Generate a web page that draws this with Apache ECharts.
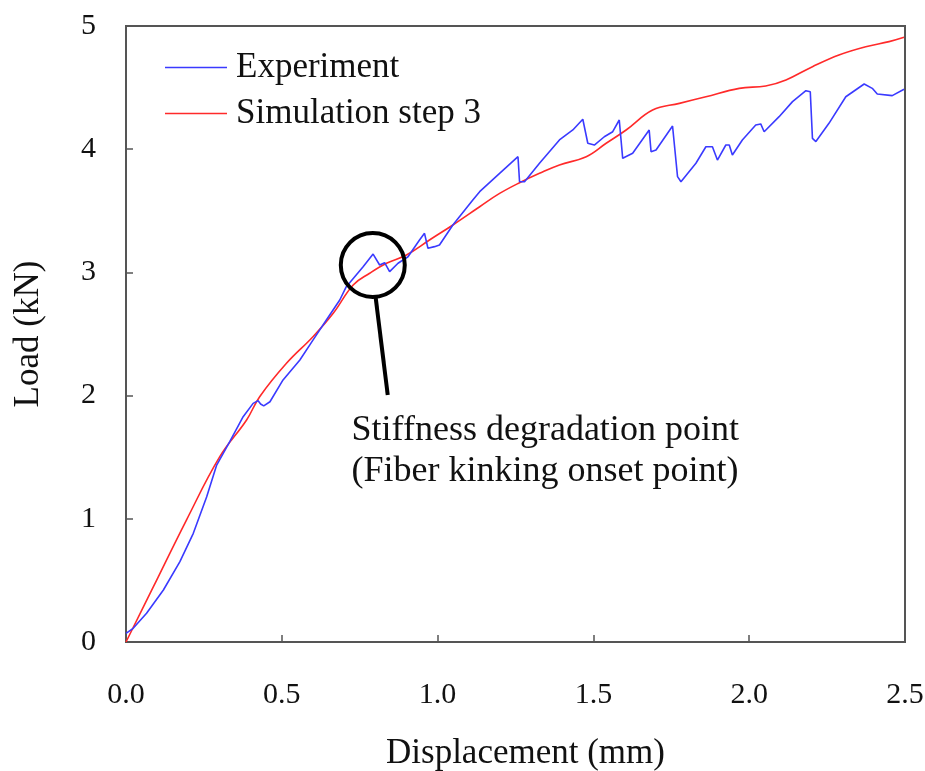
<!DOCTYPE html>
<html>
<head>
<meta charset="utf-8">
<script src="https://cdn.jsdelivr.net/npm/echarts@6/dist/echarts.min.js"></script>
<style>
html,body{margin:0;padding:0;background:#fff;}
#chart{width:925px;height:771px;}
</style>
</head>
<body>
<div id="chart"></div>
<script>
const xTicks = ['0.0','0.5','1.0','1.5','2.0','2.5'];
const yTicks = ['0','1','2','3','4','5'];
const seriesNames = ['Experiment', 'Simulation step 3'];

const expX = [0,0.023,0.066,0.12,0.173,0.216,0.259,0.291,0.333,0.376,0.408,0.424,0.432,0.442,0.462,0.504,0.558,0.600,0.643,0.686,0.707,0.761,0.793,0.814,0.830,0.846,0.873,0.905,0.942,0.958,0.969,0.990,1.006,1.049,1.113,1.135,1.199,1.258,1.263,1.279,1.327,1.391,1.434,1.466,1.482,1.503,1.535,1.562,1.583,1.594,1.626,1.679,1.685,1.701,1.754,1.770,1.781,1.829,1.861,1.882,1.898,1.925,1.936,1.946,1.978,2.021,2.037,2.048,2.096,2.139,2.182,2.196,2.203,2.214,2.256,2.310,2.369,2.395,2.411,2.459,2.497];
const expY = [0.07,0.111,0.233,0.422,0.652,0.882,1.179,1.436,1.626,1.829,1.937,1.959,1.932,1.916,1.950,2.127,2.289,2.45,2.614,2.776,2.884,3.046,3.149,3.060,3.079,3.006,3.074,3.127,3.263,3.317,3.196,3.209,3.222,3.385,3.588,3.655,3.804,3.939,3.736,3.736,3.886,4.075,4.156,4.243,4.048,4.034,4.101,4.142,4.237,3.926,3.967,4.156,3.980,3.994,4.188,3.777,3.736,3.886,4.020,4.020,3.912,4.034,4.034,3.953,4.075,4.196,4.205,4.142,4.264,4.386,4.475,4.467,4.088,4.062,4.210,4.426,4.529,4.494,4.448,4.435,4.486];

const simX = [0,0.088,0.194,0.301,0.387,0.429,0.515,0.600,0.665,0.729,0.782,0.836,0.900,0.974,1.049,1.135,1.199,1.263,1.327,1.391,1.477,1.541,1.605,1.690,1.776,1.861,1.968,2.053,2.118,2.203,2.288,2.374,2.449,2.497];
const simY = [0,0.449,0.990,1.504,1.802,1.991,2.262,2.478,2.668,2.898,2.993,3.074,3.141,3.263,3.385,3.533,3.641,3.728,3.804,3.872,3.939,4.048,4.156,4.318,4.372,4.426,4.494,4.513,4.562,4.670,4.765,4.832,4.873,4.908];

const annotationLines = ['Stiffness degradation point', '(Fiber kinking onset point)'];
const circleCenter = [0.792, 3.06];
const pointerStart = [0.801, 2.80];
const pointerEnd = [0.840, 2.005];
const textAnchor = [0.724, 1.885];

const FONT = '"Liberation Serif", "Times New Roman", serif';
const zip = (a, b) => a.map((v, i) => [v, b[i]]);

const chart = echarts.init(document.getElementById('chart'));
chart.setOption({
  backgroundColor: '#ffffff',
  animation: false,
  grid: { left: 126, right: 20, top: 26, bottom: 129, outerBoundsMode: 'none', containLabel: false,
    show: true, borderColor: '#555', borderWidth: 2, backgroundColor: 'transparent' },
  legend: {
    orient: 'vertical', left: 160, top: 45, itemGap: 11,
    icon: 'rect', itemWidth: 62, itemHeight: 1.6,
    data: seriesNames,
    textStyle: { fontFamily: FONT, fontSize: 35, color: '#111', padding: [0,0,0,4] }
  },
  xAxis: {
    type: 'value', min: 0, max: 2.5, interval: 0.5,
    name: 'Displacement (mm)', nameLocation: 'middle', nameGap: 94,
    nameTextStyle: { fontFamily: FONT, fontSize: 35, color: '#111', padding: [0,0,0,20] },
    axisLine: { show: true, lineStyle: { color: '#555', width: 2 } },
    axisTick: { show: true, inside: true, length: 7, lineStyle: { color: '#555', width: 1.5 } },
    axisLabel: { fontFamily: FONT, fontSize: 30, color: '#111', margin: 38,
      formatter: (v) => xTicks[Math.round(v / 0.5)] },
    splitLine: { show: false }
  },
  yAxis: {
    type: 'value', min: 0, max: 5, interval: 1,
    name: 'Load (kN)', nameLocation: 'middle', nameGap: 80, nameRotate: 90,
    nameTextStyle: { fontFamily: FONT, fontSize: 35, color: '#111' },
    axisLine: { show: true, lineStyle: { color: '#555', width: 2 } },
    axisTick: { show: true, inside: true, length: 7, lineStyle: { color: '#555', width: 1.5 } },
    axisLabel: { fontFamily: FONT, fontSize: 30, color: '#111', margin: 30,
      formatter: (v) => yTicks[Math.round(v)] },
    splitLine: { show: false }
  },
  series: [
    { name: seriesNames[0], type: 'line', data: zip(expX, expY), symbol: 'none', smooth: false,
      lineStyle: { color: '#3a3aff', width: 1.6 }, itemStyle: { color: '#3a3aff' }, z: 3 },
    { name: seriesNames[1], type: 'line', data: zip(simX, simY), symbol: 'none', smooth: 0.4,
      lineStyle: { color: '#ff2a2a', width: 1.6 }, itemStyle: { color: '#ff2a2a' }, z: 2 }
  ]
});

const px = (p) => chart.convertToPixel({ gridIndex: 0 }, p);
const c = px(circleCenter), s = px(pointerStart), e = px(pointerEnd), t = px(textAnchor);
chart.setOption({
  graphic: [
    { type: 'circle', shape: { cx: c[0], cy: c[1], r: 32 }, style: { fill: 'none', stroke: '#000', lineWidth: 4 }, z: 10 },
    { type: 'line', shape: { x1: s[0], y1: s[1], x2: e[0], y2: e[1] }, style: { stroke: '#000', lineWidth: 4 }, z: 10 },
    { type: 'text', x: t[0], y: t[1], z: 10,
      style: { text: annotationLines.join('\n'), font: '36px ' + FONT, fill: '#111', lineHeight: 41, textAlign: 'left', textVerticalAlign: 'top' } }
  ]
});
</script>
</body>
</html>
